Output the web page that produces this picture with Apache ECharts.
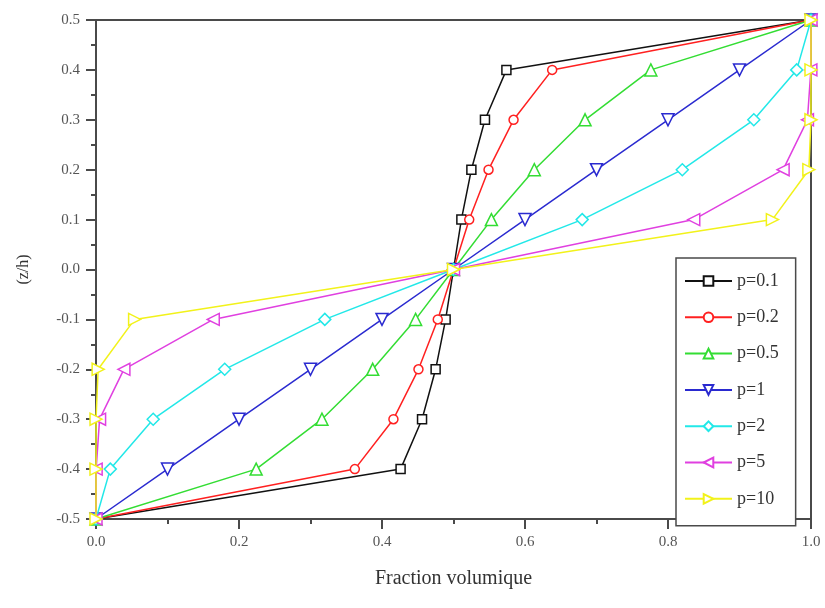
<!DOCTYPE html>
<html>
<head>
<meta charset="utf-8">
<script src="https://cdn.jsdelivr.net/npm/echarts@6/dist/echarts.min.js"></script>
<style>html,body{margin:0;padding:0;background:#fff}#c{width:825px;height:608px}</style>
</head>
<body>
<div id="c"></div>
<script>
var zh = [-0.5, -0.4, -0.3, -0.2, -0.1, 0, 0.1, 0.2, 0.3, 0.4, 0.5];
var names = ['p=0.1', 'p=0.2', 'p=0.5', 'p=1', 'p=2', 'p=5', 'p=10'];
var v01 = [0, 0.426, 0.456, 0.475, 0.489, 0.5, 0.511, 0.525, 0.544, 0.574, 1];
var v02 = [0, 0.362, 0.416, 0.451, 0.478, 0.5, 0.522, 0.549, 0.584, 0.638, 1];
var v05 = [0, 0.224, 0.316, 0.387, 0.447, 0.5, 0.553, 0.613, 0.684, 0.776, 1];
var v1  = [0, 0.1, 0.2, 0.3, 0.4, 0.5, 0.6, 0.7, 0.8, 0.9, 1];
var v2  = [0, 0.02, 0.08, 0.18, 0.32, 0.5, 0.68, 0.82, 0.92, 0.98, 1];
var v5  = [0, 0.0002, 0.005, 0.039, 0.164, 0.5, 0.836, 0.961, 0.995, 0.9998, 1];
var v10 = [0, 0, 0.00005, 0.003, 0.054, 0.5, 0.946, 0.997, 0.99995, 1, 1];
var xTicks = ['0.0', '0.2', '0.4', '0.6', '0.8', '1.0'];

var values = [v01, v02, v05, v1, v2, v5, v10];
var colors = ['#111111', '#ff2020', '#33dd33', '#2a2ad0', '#22e8e8', '#e040e0', '#f2f21a'];
var symbols = ['rect', 'circle', 'triangle', 'triangle', 'diamond', 'triangle', 'triangle'];
var rotates = [0, 0, 0, 180, 0, 90, -90];
var sizes = [9, 9, 12, 12, 12, 12, 12];

var series = values.map(function (vals, i) {
  return {
    name: names[i],
    type: 'line',
    data: vals.map(function (v, j) { return [v, zh[j]]; }),
    symbol: symbols[i],
    symbolRotate: rotates[i],
    symbolSize: sizes[i],
    showAllSymbol: true,
    clip: false,
    lineStyle: { color: colors[i], width: 1.5 },
    itemStyle: { color: '#ffffff', borderColor: colors[i], borderWidth: 1.5 },
    emphasis: { disabled: true },
    z: 2 + i
  };
});

var font = '"Liberation Serif", "DejaVu Serif", serif';
var chart = echarts.init(document.getElementById('c'), null, { renderer: 'canvas' });
chart.setOption({
  animation: false,
  backgroundColor: '#ffffff',
  grid: { left: 96, right: 14, top: 20, bottom: 89, show: true, borderColor: '#4a4a4a', borderWidth: 2, backgroundColor: 'transparent' },
  legend: {
    orient: 'vertical',
    left: 676,
    top: 258,
    padding: [14, 17, 18, 8],
    itemWidth: 47,
    itemHeight: 12,
    itemGap: 18.3,
    borderColor: '#4a4a4a',
    borderWidth: 1.5,
    backgroundColor: '#ffffff',
    textStyle: { fontFamily: font, fontSize: 18, color: '#333333' },
    data: names
  },
  xAxis: {
    type: 'value',
    min: 0,
    max: 1,
    interval: 0.2,
    name: 'Fraction volumique',
    nameLocation: 'middle',
    nameGap: 50,
    nameTextStyle: { fontFamily: font, fontSize: 20, color: '#333333' },
    axisLine: { show: true, onZero: false, lineStyle: { color: '#4a4a4a', width: 2 } },
    axisTick: { show: true, inside: false, length: 10, lineStyle: { color: '#4a4a4a', width: 2 } },
    minorTick: { show: true, splitNumber: 2, length: 5, lineStyle: { color: '#4a4a4a', width: 2 } },
    splitLine: { show: false },
    axisLabel: {
      fontFamily: font, fontSize: 15, color: '#555555', margin: 16,
      formatter: function (v) { return xTicks[Math.round(v / 0.2)]; }
    }
  },
  yAxis: {
    type: 'value',
    min: -0.5,
    max: 0.5,
    interval: 0.1,
    name: '(z/h)',
    nameLocation: 'middle',
    nameGap: 64,
    nameTextStyle: { fontFamily: font, fontSize: 16, color: '#333333' },
    axisLine: { show: true, onZero: false, lineStyle: { color: '#4a4a4a', width: 2 } },
    axisTick: { show: true, inside: false, length: 10, lineStyle: { color: '#4a4a4a', width: 2 } },
    minorTick: { show: true, splitNumber: 2, length: 5, lineStyle: { color: '#4a4a4a', width: 2 } },
    splitLine: { show: false },
    axisLabel: {
      fontFamily: font, fontSize: 15, color: '#555555', margin: 16,
      formatter: function (v) { return v.toFixed(1); }
    }
  },
  series: series
});
</script>
</body>
</html>
